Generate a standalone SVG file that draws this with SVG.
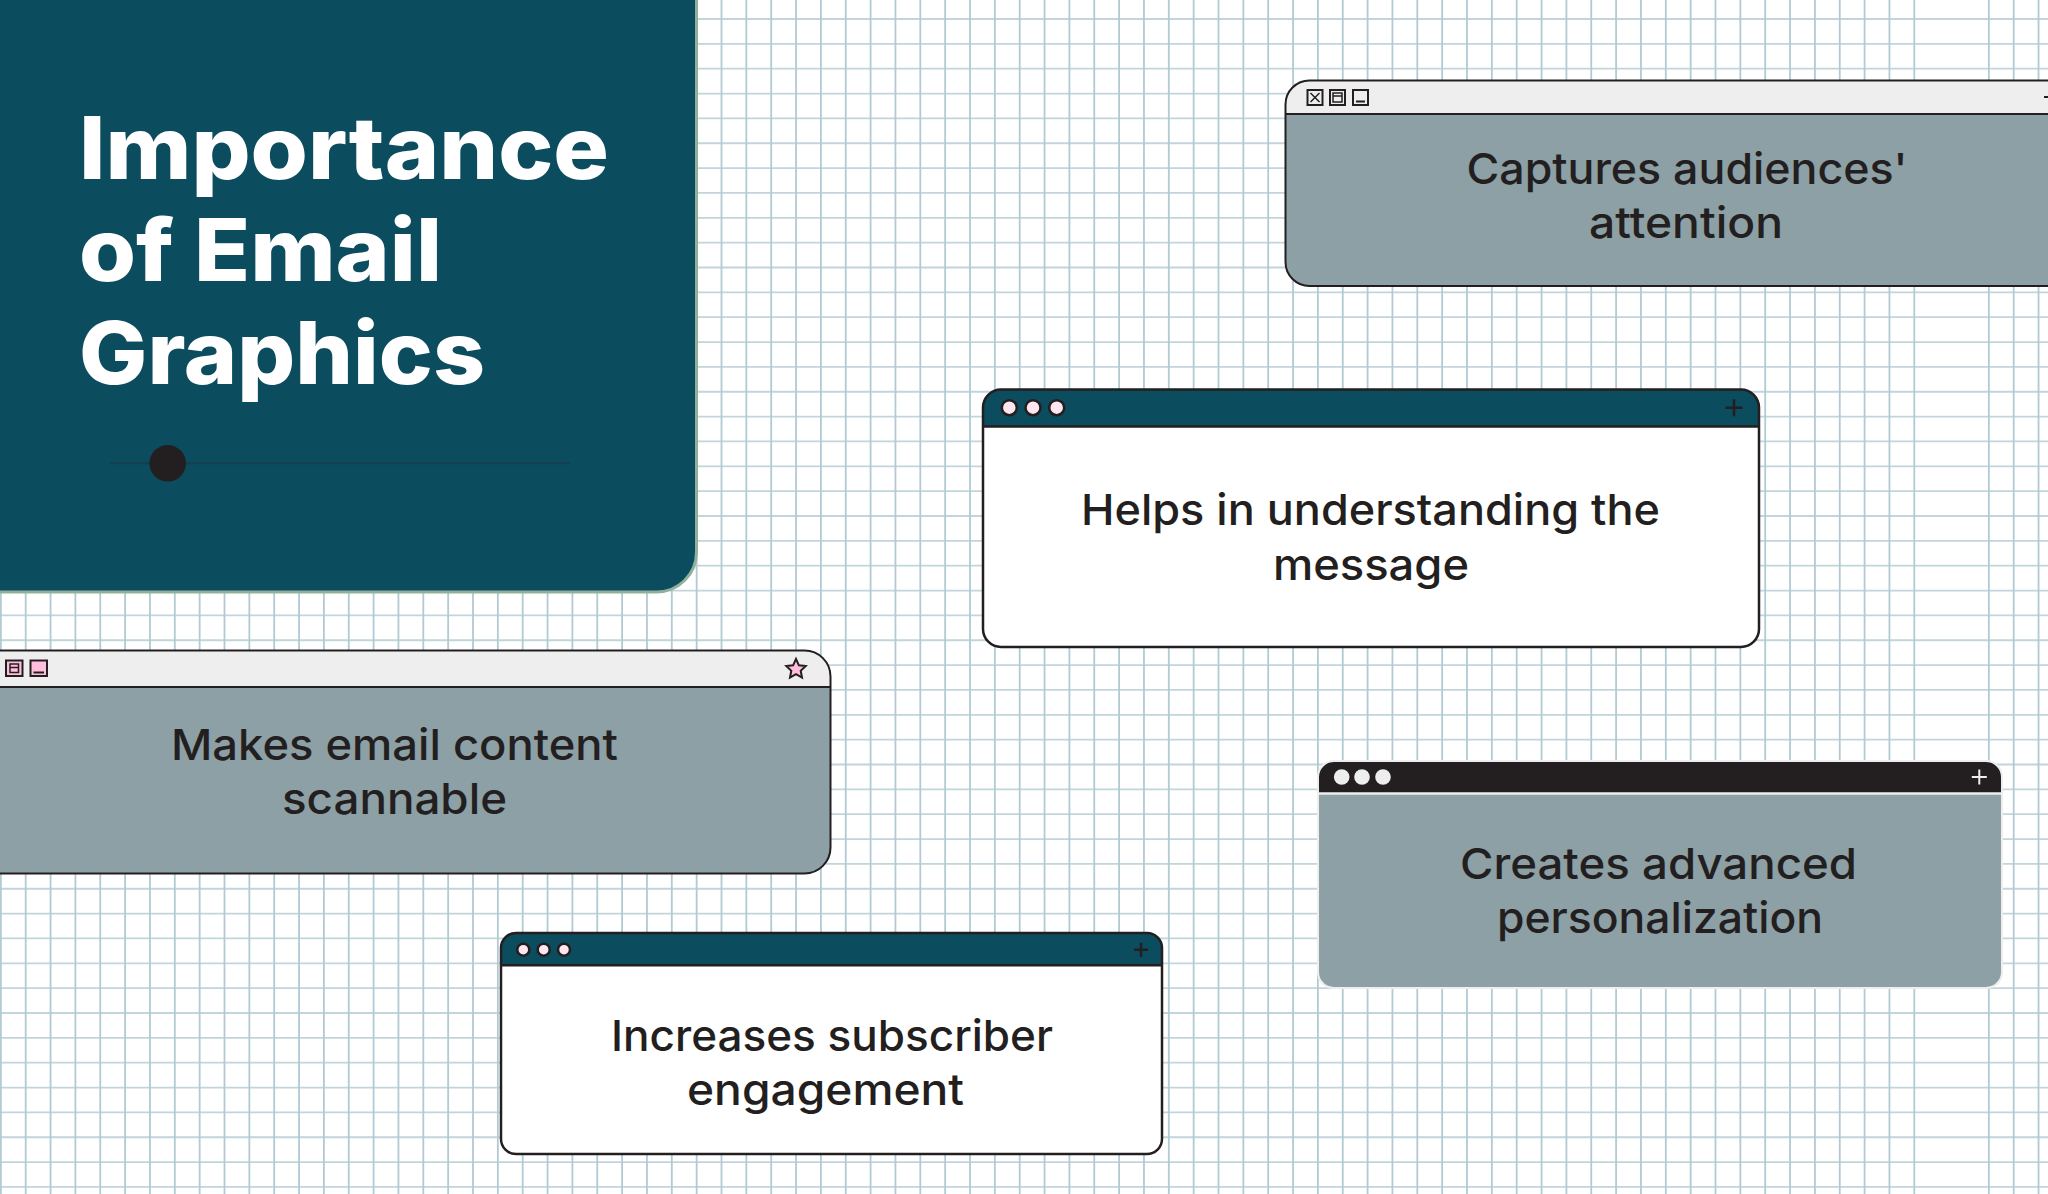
<svg xmlns="http://www.w3.org/2000/svg" width="2048" height="1194" viewBox="0 0 2048 1194">
<style>
text{font-family:Inter,"Liberation Sans",sans-serif;fill:#231f20}
.t{font-size:86px;font-weight:800;fill:#fff}
.b{font-size:43px;font-weight:500;text-anchor:middle}
.s{stroke:#231f20;stroke-width:2.5;fill:none}
.gbody{fill:#8ca0a5}
.gbar{fill:#eeeeee}
.teal{fill:#0b4c5f}
.i{fill:#eeeeee;stroke:#231f20;stroke-width:2}
.p{fill:#ffbfdc;stroke:#231f20;stroke-width:2}
.il{fill:none;stroke:#231f20;stroke-width:2}
.dot{fill:#fde6f0;stroke:#231f20;stroke-width:2.5}
.gv{fill:none;stroke:#b1cad3;stroke-width:1.8}
.gh{fill:none;stroke:#c2d5db;stroke-width:1.8}
</style>
<rect id="background" width="2048" height="1194" fill="#ffffff"/>
<g id="grid-paper">
<path class="gh" d="M0 19h2048m-2048 24.85h2048m-2048 24.85h2048m-2048 24.85h2048m-2048 24.85h2048m-2048 24.85h2048m-2048 24.85h2048m-2048 24.85h2048m-2048 24.85h2048m-2048 24.85h2048m-2048 24.85h2048m-2048 24.85h2048m-2048 24.85h2048m-2048 24.85h2048m-2048 24.85h2048m-2048 24.85h2048m-2048 24.85h2048m-2048 24.85h2048m-2048 24.85h2048m-2048 24.85h2048m-2048 24.85h2048m-2048 24.85h2048m-2048 24.85h2048m-2048 24.85h2048m-2048 24.85h2048m-2048 24.85h2048m-2048 24.85h2048m-2048 24.85h2048m-2048 24.85h2048m-2048 24.85h2048m-2048 24.85h2048m-2048 24.85h2048m-2048 24.85h2048m-2048 24.85h2048m-2048 24.85h2048m-2048 24.85h2048m-2048 24.85h2048m-2048 24.85h2048m-2048 24.85h2048m-2048 24.85h2048m-2048 24.85h2048m-2048 24.85h2048m-2048 24.85h2048m-2048 24.85h2048m-2048 24.85h2048m-2048 24.85h2048m-2048 24.85h2048m-2048 24.85h2048"/>
<path class="gv" d="M0.85 0v1194m24.85-1194v1194m24.85-1194v1194m24.85-1194v1194m24.85-1194v1194m24.85-1194v1194m24.85-1194v1194m24.85-1194v1194m24.85-1194v1194m24.85-1194v1194m24.85-1194v1194m24.85-1194v1194m24.85-1194v1194m24.85-1194v1194m24.85-1194v1194m24.85-1194v1194m24.85-1194v1194m24.85-1194v1194m24.85-1194v1194m24.85-1194v1194m24.85-1194v1194m24.85-1194v1194m24.85-1194v1194m24.85-1194v1194m24.85-1194v1194m24.85-1194v1194m24.85-1194v1194m24.85-1194v1194m24.85-1194v1194m24.85-1194v1194m24.85-1194v1194m24.85-1194v1194m24.85-1194v1194m24.85-1194v1194m24.85-1194v1194m24.85-1194v1194m24.85-1194v1194m24.85-1194v1194m24.85-1194v1194m24.85-1194v1194m24.85-1194v1194m24.85-1194v1194m24.85-1194v1194m24.85-1194v1194m24.85-1194v1194m24.85-1194v1194m24.85-1194v1194m24.85-1194v1194m24.85-1194v1194m24.85-1194v1194m24.85-1194v1194m24.85-1194v1194m24.85-1194v1194m24.85-1194v1194m24.85-1194v1194m24.85-1194v1194m24.85-1194v1194m24.85-1194v1194m24.85-1194v1194m24.85-1194v1194m24.85-1194v1194m24.85-1194v1194m24.85-1194v1194m24.85-1194v1194m24.85-1194v1194m24.85-1194v1194m24.85-1194v1194m24.85-1194v1194m24.85-1194v1194m24.85-1194v1194m24.85-1194v1194m24.85-1194v1194m24.85-1194v1194m24.85-1194v1194m24.85-1194v1194m24.85-1194v1194m24.85-1194v1194m24.85-1194v1194M1988.85 0v1194M2013.7 0v1194M2038.55 0v1194"/>
</g>

<g id="title-panel">
<path d="M-10-10H696.500V552A40 40 0 0 1 656.500 592H-10Z" fill="#0b4c5f" stroke="#8fb09a" stroke-width="3"/>
<text class="t" x="79" y="179" textLength="530" lengthAdjust="spacingAndGlyphs">Importance</text>
<text class="t" x="79" y="281" textLength="363" lengthAdjust="spacingAndGlyphs">of Email</text>
<text class="t" x="79" y="384" textLength="406" lengthAdjust="spacingAndGlyphs">Graphics</text>
<line x1="110" y1="463.300" x2="570" y2="463.300" stroke="#153f4f" stroke-width="2"/>
<circle cx="167.700" cy="463.300" r="18.300" fill="#231f20"/>
</g>

<g id="node-captures">
<path d="M2070 80.500H1309.500A24 24 0 0 0 1285.500 104.500V262A24 24 0 0 0 1309.500 286H2070Z" class="gbody"/>
<path d="M2070 80.500H1309.500A24 24 0 0 0 1285.500 104.500V114H2070Z" class="gbar"/>
<path d="M2070 80.500H1309.500A24 24 0 0 0 1285.500 104.500V262A24 24 0 0 0 1309.500 286H2070M1285.500 114H2070" class="s" style="stroke-width:2"/>
<rect class="i" x="1307.500" y="90" width="15" height="15"/><path class="il" style="stroke-width:1.500" d="M1310.500 93l9 9m0-9l-9 9"/>
<rect class="i" x="1330" y="90" width="15" height="15"/><path class="il" style="stroke-width:1.500" d="M1333 93h9v9h-9zM1333 96h9"/>
<rect class="i" x="1353" y="90" width="15" height="15"/><path class="il" d="M1356 101.500h9"/>
<path class="il" d="M2044 97h4"/>
<text class="b" x="1687" y="184" textLength="441" lengthAdjust="spacingAndGlyphs">Captures audiences'</text>
<text class="b" x="1686" y="238" textLength="194" lengthAdjust="spacingAndGlyphs">attention</text>
</g>

<g id="node-helps">
<rect x="983" y="389.500" width="776" height="257.500" rx="18" fill="#ffffff"/>
<path d="M983 426.500V407.500A18 18 0 0 1 1001 389.500H1741A18 18 0 0 1 1759 407.500V426.500Z" class="teal"/>
<rect x="983" y="389.500" width="776" height="257.500" rx="18" class="s"/>
<path class="s" d="M983 426.500H1759"/>
<circle class="dot" cx="1009.300" cy="407.700" r="7.500"/><circle class="dot" cx="1033" cy="407.700" r="7.500"/><circle class="dot" cx="1056.700" cy="407.700" r="7.500"/>
<path class="s" d="M1725.500 407.700h17M1734 399.200v17"/>
<text class="b" x="1370.500" y="525" textLength="579" lengthAdjust="spacingAndGlyphs">Helps in understanding the</text>
<text class="b" x="1371" y="580" textLength="196" lengthAdjust="spacingAndGlyphs">message</text>
</g>

<g id="node-makes">
<path d="M-20 650.500H804.500A26 26 0 0 1 830.500 676.500V847.500A26 26 0 0 1 804.500 873.500H-20Z" class="gbody"/>
<path d="M-20 650.500H804.500A26 26 0 0 1 830.500 676.500V687H-20Z" class="gbar"/>
<path d="M-20 650.500H804.500A26 26 0 0 1 830.500 676.500V847.500A26 26 0 0 1 804.500 873.500H-20M-20 687H830.500" class="s" style="stroke-width:2"/>
<rect class="p" x="6" y="660.500" width="16.500" height="15.500"/><path class="il" style="stroke-width:1.500" d="M10 664h8.500v8.500H10zM10 667.500h8.500"/>
<rect class="p" x="30.500" y="660.500" width="16.500" height="15.500"/><path class="il" d="M33.500 672.500h10.500"/>
<path d="M796 659l2.900 6.300 6.800.8-5 4.700 1.300 6.800-6-3.400-6 3.400 1.300-6.800-5-4.700 6.800-.8Z" class="p"/>
<text class="b" x="394.500" y="760" textLength="447" lengthAdjust="spacingAndGlyphs">Makes email content</text>
<text class="b" x="394.500" y="814" textLength="225" lengthAdjust="spacingAndGlyphs">scannable</text>
</g>

<g id="node-increases">
<rect x="501" y="933" width="661" height="221" rx="15" fill="#ffffff"/>
<path d="M501 965V948A15 15 0 0 1 516 933H1147A15 15 0 0 1 1162 948V965Z" class="teal"/>
<rect x="501" y="933" width="661" height="221" rx="15" class="s"/>
<path class="s" d="M501 965.200H1162"/>
<circle class="dot" cx="523.300" cy="949.700" r="6"/><circle class="dot" cx="543.700" cy="949.700" r="6"/><circle class="dot" cx="564" cy="949.700" r="6"/>
<path class="s" d="M1134 949.700h14M1141 942.700v14"/>
<text class="b" x="832" y="1051" textLength="442" lengthAdjust="spacingAndGlyphs">Increases subscriber</text>
<text class="b" x="825.500" y="1105" textLength="277" lengthAdjust="spacingAndGlyphs">engagement</text>
</g>

<g id="node-creates">
<rect x="1318" y="761" width="684" height="227" rx="16" class="gbody"/>
<path d="M1318 793V777A16 16 0 0 1 1334 761H1986A16 16 0 0 1 2002 777V793Z" fill="#231f20"/>
<rect x="1318" y="761" width="684" height="227" rx="16" fill="none" stroke="#eeeeee" stroke-width="2"/>
<path d="M1318 793.500H2002" stroke="#eeeeee" stroke-width="2.500"/>
<circle cx="1341.700" cy="777" r="7.800" fill="#eeeeee"/><circle cx="1362" cy="777" r="7.800" fill="#eeeeee"/><circle cx="1383" cy="777" r="7.800" fill="#eeeeee"/>
<path d="M1971.800 777h15M1979.300 769.500v15" stroke="#eeeeee" stroke-width="2" fill="none"/>
<text class="b" x="1658.500" y="879" textLength="397" lengthAdjust="spacingAndGlyphs">Creates advanced</text>
<text class="b" x="1660" y="933" textLength="326" lengthAdjust="spacingAndGlyphs">personalization</text>
</g>
</svg>
